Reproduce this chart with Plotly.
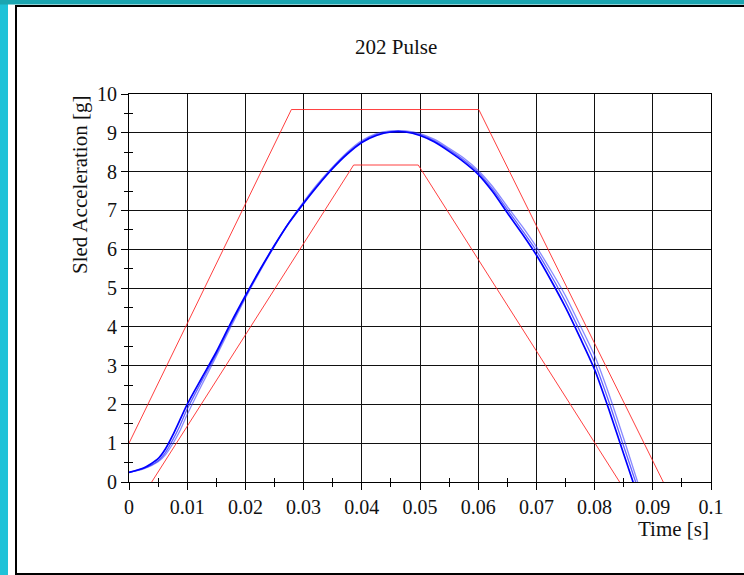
import plotly.graph_objects as go

# ---------------- data ----------------
x_tick_vals = [0, 0.01, 0.02, 0.03, 0.04, 0.05, 0.06, 0.07, 0.08, 0.09, 0.1]
x_tick_text = ["0", "0.01", "0.02", "0.03", "0.04", "0.05", "0.06", "0.07", "0.08", "0.09", "0.1"]
x_minor_vals = [0.005, 0.015, 0.025, 0.035, 0.045, 0.055, 0.065, 0.075, 0.085, 0.095]
y_tick_vals = [0, 1, 2, 3, 4, 5, 6, 7, 8, 9, 10]
y_minor_vals = [0.5, 1.5, 2.5, 3.5, 4.5, 5.5, 6.5, 7.5, 8.5, 9.5]

# corridor limits
upper_t = [0.0, 0.0279, 0.0601, 0.0918]
upper_g = [1.0, 9.6, 9.6, 0.0]
lower_t = [0.0039, 0.0386, 0.0497, 0.0843]
lower_g = [0.0, 8.17, 8.17, 0.0]

# measured pulses
pulse_t = [0.0, 0.0025, 0.005, 0.00625, 0.0075, 0.00875, 0.010, 0.0125, 0.015, 0.0175,
           0.020, 0.0225, 0.025, 0.0275, 0.030, 0.0325, 0.035, 0.0375, 0.040, 0.0425,
           0.045, 0.0475, 0.050, 0.0525, 0.055, 0.0575, 0.060, 0.0625, 0.065, 0.0675,
           0.070, 0.0725, 0.075, 0.0775, 0.080, 0.0825, 0.085, 0.0875]
pulse_a = [0.25, 0.36, 0.60, 0.85, 1.20, 1.60, 2.00, 2.68, 3.35, 4.10,
           4.80, 5.47, 6.10, 6.68, 7.18, 7.65, 8.08, 8.45, 8.75, 8.93,
           9.02, 9.02, 8.93, 8.76, 8.52, 8.25, 7.93, 7.48, 6.94, 6.41,
           5.85, 5.20, 4.50, 3.72, 2.90, 1.85, 0.72, -0.40]
pulse_b = [0.25, 0.35, 0.55, 0.76, 1.08, 1.45, 1.88, 2.60, 3.30, 4.06,
           4.78, 5.46, 6.10, 6.69, 7.20, 7.67, 8.10, 8.47, 8.77, 8.95,
           9.03, 9.03, 8.95, 8.79, 8.56, 8.30, 7.98, 7.54, 7.02, 6.50,
           5.96, 5.33, 4.65, 3.88, 3.08, 2.05, 0.92, -0.20]
pulse_c = [0.25, 0.34, 0.52, 0.70, 0.98, 1.32, 1.74, 2.50, 3.24, 4.00,
           4.74, 5.43, 6.08, 6.69, 7.22, 7.70, 8.12, 8.50, 8.80, 8.98,
           9.05, 9.05, 8.98, 8.83, 8.60, 8.35, 8.03, 7.61, 7.10, 6.60,
           6.06, 5.45, 4.80, 4.04, 3.26, 2.25, 1.12, -0.05]

title_text = "202 Pulse"
x_title = "Time [s]"
y_title = "Sled Acceleration [g]"

# ---------------- layout geometry (pixels) ----------------
W, H = 744, 575
L, R, T, B = 129, 711, 94, 482
FONT = "Liberation Serif, Times New Roman, serif"


def px(x):
    return (x - L) / (R - L)


def py(y):
    return (B - y) / (B - T)


fig = go.Figure()

red = "rgba(255,30,30,0.85)"
fig.add_trace(go.Scatter(x=upper_t, y=upper_g, mode="lines",
                         line=dict(color=red, width=1), hoverinfo="skip"))
fig.add_trace(go.Scatter(x=lower_t, y=lower_g, mode="lines",
                         line=dict(color=red, width=1), hoverinfo="skip"))
for vals, col, w in [(pulse_c, "rgba(40,40,255,0.55)", 1.3),
                     (pulse_b, "rgba(30,30,255,0.7)", 1.3),
                     (pulse_a, "rgba(0,0,255,1)", 1.7)]:
    fig.add_trace(go.Scatter(x=pulse_t, y=vals, mode="lines",
                             line=dict(color=col, width=w, shape="spline", smoothing=0.7),
                             hoverinfo="skip"))

# overlay axes so the minor ticks cross the axis lines
fig.add_trace(go.Scatter(x=[None], y=[None], xaxis="x2", yaxis="y2", hoverinfo="skip"))

axis_font = dict(family=FONT, size=20, color="#111")
fig.update_layout(
    width=W, height=H,
    margin=dict(l=L, r=W - R, t=T, b=H - B, pad=0),
    paper_bgcolor="white", plot_bgcolor="white",
    showlegend=False,
    font=dict(family=FONT, size=20, color="#111"),
    xaxis=dict(range=[0, 0.1], tickvals=x_tick_vals, ticktext=x_tick_text,
               ticks="outside", ticklen=7, tickcolor="black", tickwidth=1,
               showgrid=True, gridcolor="#111", gridwidth=1,
               showline=True, linecolor="black", linewidth=1, mirror=True,
               zeroline=False, tickfont=axis_font,
               minor=dict(tickvals=x_minor_vals, ticks="outside", ticklen=4,
                          tickcolor="black", showgrid=False)),
    yaxis=dict(range=[0, 10], tickvals=y_tick_vals,
               ticks="outside", ticklen=7, tickcolor="black", tickwidth=1,
               showgrid=True, gridcolor="#111", gridwidth=1,
               showline=True, linecolor="black", linewidth=1, mirror=True,
               zeroline=False, tickfont=axis_font,
               minor=dict(tickvals=y_minor_vals, ticks="outside", ticklen=4,
                          tickcolor="black", showgrid=False)),
    xaxis2=dict(range=[0, 0.1], overlaying="x", anchor="y2", side="bottom",
                tickvals=x_minor_vals, ticks="inside", ticklen=4, tickcolor="black",
                showticklabels=False, showgrid=False, showline=False, zeroline=False),
    yaxis2=dict(range=[0, 10], overlaying="y", anchor="x2", side="left",
                tickvals=y_minor_vals, ticks="inside", ticklen=4, tickcolor="black",
                showticklabels=False, showgrid=False, showline=False, zeroline=False),
)

fig.add_annotation(text=title_text, xref="paper", yref="paper", x=px(396), y=py(47),
                   xanchor="center", yanchor="middle", showarrow=False,
                   font=dict(family=FONT, size=21, color="#111"))
fig.add_annotation(text=x_title, xref="paper", yref="paper", x=px(711), y=py(529),
                   xanchor="right", yanchor="middle", showarrow=False,
                   font=dict(family=FONT, size=21, color="#111"))
fig.add_annotation(text=y_title, xref="paper", yref="paper", x=px(80), y=py(94),
                   xanchor="center", yanchor="top", textangle=-90, showarrow=False,
                   font=dict(family=FONT, size=21, color="#111"))

# page frame decoration
shapes = [
    dict(type="rect", xref="paper", yref="paper", x0=px(0), x1=px(8), y0=py(0), y1=py(H),
         fillcolor="#1fc2d8", line=dict(width=0), layer="above"),
    dict(type="rect", xref="paper", yref="paper", x0=px(0), x1=px(W), y0=py(0), y1=py(4.5),
         fillcolor="#1ba5b0", line=dict(width=0), layer="above"),
    dict(type="line", xref="paper", yref="paper", x0=px(16), x1=px(16), y0=py(6), y1=py(574),
         line=dict(color="black", width=2), layer="above"),
    dict(type="line", xref="paper", yref="paper", x0=px(15), x1=px(W), y0=py(6), y1=py(6),
         line=dict(color="black", width=2), layer="above"),
    dict(type="line", xref="paper", yref="paper", x0=px(15), x1=px(W), y0=py(574), y1=py(574),
         line=dict(color="black", width=2), layer="above"),
]
fig.update_layout(shapes=shapes)

fig.write_html("out.html", config={"displayModeBar": False, "staticPlot": True},
               post_script="document.body.style.margin='0';document.body.style.overflow='hidden';")
